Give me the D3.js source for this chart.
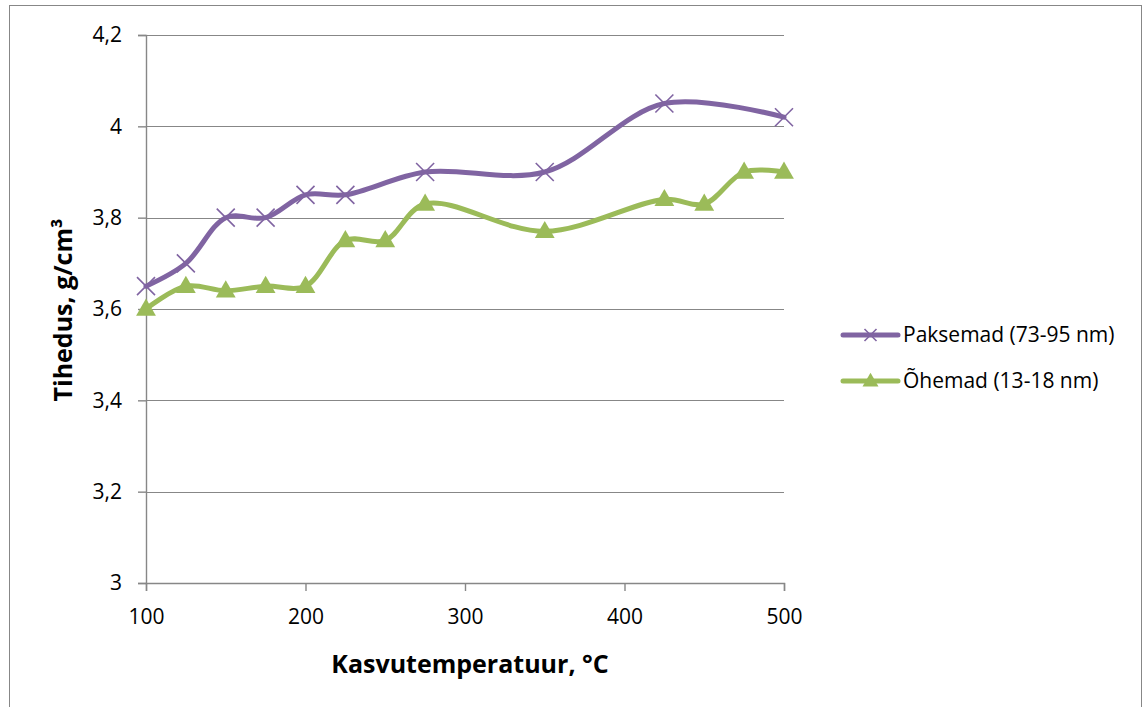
<!DOCTYPE html>
<html>
<head>
<meta charset="utf-8">
<script src="https://cdn.jsdelivr.net/npm/d3@7"></script>
<style>
  body { margin: 0; background: #fff; }
  text { font-family: "Open Sans", "Liberation Sans", sans-serif; fill: #000; }
</style>
</head>
<body>
<div id="chart"></div>
<script>
(function() {
  'use strict';
  var WIDTH = 1143;
  var HEIGHT = 707;

  var temps1 = [100, 125, 150, 175, 200, 225, 275, 350, 425, 500];
  var paksemad = [3.65, 3.70, 3.80, 3.80, 3.85, 3.85, 3.90, 3.90, 4.05, 4.02];
  var temps2 = [100, 125, 150, 175, 200, 225, 250, 275, 350, 425, 450, 475, 500];
  var ohemad = [3.60, 3.65, 3.64, 3.65, 3.65, 3.75, 3.75, 3.83, 3.77, 3.84, 3.83, 3.90, 3.90];
  var xTicks = [100, 200, 300, 400, 500];
  var yTicks = [3, 3.2, 3.4, 3.6, 3.8, 4, 4.2];
  var seriesNames = ['Paksemad (73-95 nm)', 'Õhemad (13-18 nm)'];

  var margin = {top: 35, right: 359, bottom: 124, left: 146};
  var width = 784 - margin.left;
  var height = 583 - margin.top;

  var svg = d3.select('#chart').append('svg')
    .attr('width', WIDTH)
    .attr('height', HEIGHT);

  // outer chart border
  svg.append('rect')
    .attr('x', 9.5).attr('y', 5.5)
    .attr('width', 1132).attr('height', 720)
    .attr('fill', 'none').attr('stroke', '#878787');

  var g = svg.append('g')
    .attr('transform', 'translate(' + margin.left + ',' + margin.top + ')');

  var x = d3.scaleLinear().domain([100, 500]).range([0, width]);
  var y = d3.scaleLinear().domain([3, 4.2]).range([height, 0]);
  var fmt = function(d) { return String(+d.toFixed(1)).replace('.', ','); };

  // gridlines
  g.selectAll('.grid').data(yTicks.slice(1)).enter().append('line')
    .attr('x1', 0).attr('x2', width)
    .attr('y1', function(d) { return Math.round(y(d)) + 0.5; })
    .attr('y2', function(d) { return Math.round(y(d)) + 0.5; })
    .attr('stroke', '#878787').attr('stroke-width', 1.2);

  var yAxis = g.append('g')
    .call(d3.axisLeft(y).tickValues(yTicks).tickFormat(fmt).tickSize(8).tickPadding(16));
  var xAxis = g.append('g')
    .attr('transform', 'translate(0,' + height + ')')
    .call(d3.axisBottom(x).tickValues(xTicks).tickSize(8).tickPadding(18));

  [xAxis, yAxis].forEach(function(a) {
    a.select('.domain').attr('stroke', '#878787').attr('stroke-width', 1.4);
    a.selectAll('.tick line').attr('stroke', '#878787').attr('stroke-width', 1.4);
    a.selectAll('.tick text')
      .style('font-family', '"Open Sans", "Liberation Sans", sans-serif')
      .style('font-size', '21px').attr('fill', '#000');
  });

  var line = d3.line().curve(d3.curveCatmullRom.alpha(0.5))
    .x(function(d) { return x(d[0]); })
    .y(function(d) { return y(d[1]); });

  var purple = '#8064A2';
  var green = '#9BBB59';
  var data1 = d3.zip(temps1, paksemad);
  var data2 = d3.zip(temps2, ohemad);

  g.append('path').datum(data2)
    .attr('d', line).attr('fill', 'none')
    .attr('stroke', green).attr('stroke-width', 5).attr('stroke-linecap', 'round');
  g.append('path').datum(data1)
    .attr('d', line).attr('fill', 'none')
    .attr('stroke', purple).attr('stroke-width', 5).attr('stroke-linecap', 'round');

  var tri = d3.symbol().type(d3.symbolTriangle).size(170);
  g.selectAll('.tri').data(data2).enter().append('path')
    .attr('d', tri)
    .attr('transform', function(d) { return 'translate(' + x(d[0]) + ',' + (y(d[1]) + 1) + ')'; })
    .attr('fill', green);

  var cross = function(sel, s) {
    sel.append('path')
      .attr('d', 'M' + (-s) + ',' + (-s) + 'L' + s + ',' + s + 'M' + (-s) + ',' + s + 'L' + s + ',' + (-s))
      .attr('stroke', purple).attr('stroke-width', 1.6).attr('fill', 'none');
  };
  g.selectAll('.xm').data(data1).enter().append('g')
    .attr('transform', function(d) { return 'translate(' + x(d[0]) + ',' + y(d[1]) + ')'; })
    .each(function() { cross(d3.select(this), 9); });

  // axis titles
  svg.append('text')
    .attr('x', 470).attr('y', 673)
    .attr('text-anchor', 'middle')
    .style('font-size', '25px').style('font-weight', 'bold')
    .text('Kasvutemperatuur, °C');

  svg.append('text')
    .attr('transform', 'translate(72,310) rotate(-90)')
    .attr('text-anchor', 'middle')
    .style('font-size', '25px').style('font-weight', 'bold')
    .text('Tihedus, g/cm³');

  // legend
  var legend = svg.append('g').attr('transform', 'translate(843,335)');
  var items = legend.selectAll('g').data(seriesNames).enter().append('g')
    .attr('transform', function(d, i) { return 'translate(0,' + (i * 46) + ')'; });
  items.append('line')
    .attr('x1', 0).attr('x2', 55).attr('y1', 0).attr('y2', 0)
    .attr('stroke', function(d, i) { return i ? green : purple; })
    .attr('stroke-width', 5).attr('stroke-linecap', 'round');
  items.each(function(d, i) {
    var s = d3.select(this);
    if (i) {
      s.append('path').attr('d', d3.symbol().type(d3.symbolTriangle).size(110))
        .attr('transform', 'translate(27.5,1)').attr('fill', green);
    } else {
      s.append('g').attr('transform', 'translate(27.5,0)').call(function(sel) { cross(sel, 6); });
    }
  });
  items.append('text')
    .attr('x', 60).attr('y', 0).attr('dy', '0.35em')
    .style('font-size', '21px')
    .text(function(d) { return d; });
})();
</script>
</body>
</html>
